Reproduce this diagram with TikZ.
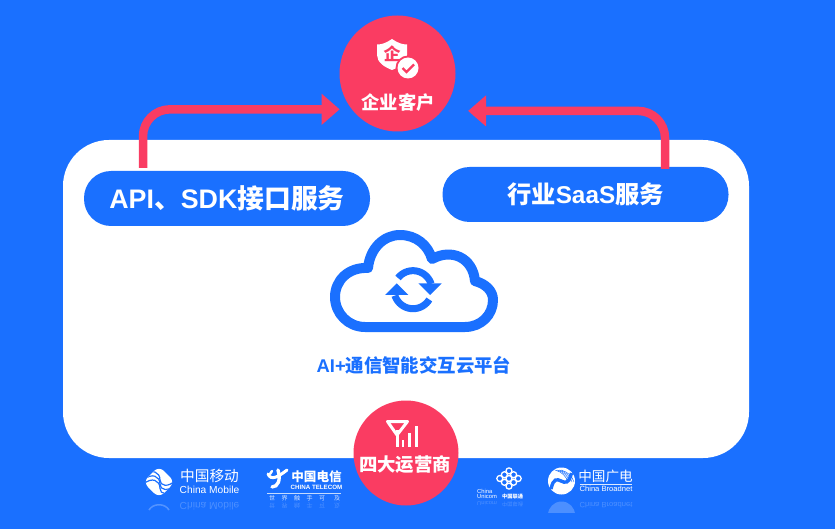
\documentclass[tikz,border=0pt]{standalone}
\usepackage{fontspec}
\setmainfont{Noto Sans CJK SC}
\newfontfamily\latn{Liberation Sans}
\usetikzlibrary{arrows.meta}
\definecolor{bgblue}{HTML}{1A70FF}
\definecolor{accent}{HTML}{FA3C62}
\tikzset{
  panel/.style={fill=white,rounded corners=46pt},
  pill/.style={fill=bgblue,rounded corners=27pt,text=white,font=\bfseries\fontsize{25}{25}\selectfont,minimum height=55pt,minimum width=286pt,inner sep=0pt},
  badge/.style={circle,fill=accent,inner sep=0pt},
  badgetext/.style={text=white,font=\bfseries\fontsize{18.3}{18.3}\selectfont,inner sep=0pt},
  flow/.style={draw=accent,line width=8.5pt,rounded corners=27pt,-{Triangle[length=18pt,width=30pt]}},
  logotext/.style={text=white,inner sep=0pt},
  mirror/.style={text=white,opacity=.22,inner sep=0pt,yscale=-1,transform shape},
}
\begin{document}
\begin{tikzpicture}[x=1pt,y=-1pt]
\useasboundingbox (0,0) rectangle (835,529);
\fill[bgblue] (0,0) rectangle (835,529);
\fill[panel] (63,140) rectangle (749,458);
% pills and badges
\node[pill] (api) at (227,198.5) {\fontsize{26.8}{26.8}\selectfont{\latn\bfseries API}、{\latn\bfseries SDK}接口服务};
\node[pill] (saas) at (585.5,194.5) {\fontsize{24.3}{24.3}\selectfont 行业{\latn\bfseries SaaS}服务};
\node[badge,minimum size=116pt] (client) at (397.5,73.5) {};
\coordinate (leftturn) at (143,120);
\coordinate (rightturn) at (665,120);
\draw[flow,shorten <=3pt,shorten >=12pt] (api.north -| leftturn) |- (client.218.4);
\draw[flow,shorten <=-2pt,shorten >=26pt] (saas.north -| rightturn) |- (client.320.4);
% client icon
\fill[white] (392,39) .. controls (386,43) and (382,44.5) .. (377,44.5)
  -- (377,55) .. controls (377,62) and (384,67) .. (392,70)
  .. controls (400,67) and (407,62) .. (407,55) -- (407,44.5)
  .. controls (402,44.5) and (398,43) .. (392,39) -- cycle;
\node[text=accent,font=\bfseries\fontsize{17}{17}\selectfont,inner sep=0pt] (shieldmark) at (392,54) {企};
\fill[accent] (408,68) circle (12.5);
\fill[white] (408,68) circle (10.5);
\draw[accent,line width=2.2pt] (402.5,68) -- (406.5,72) -- (414,64.5);
\node[badgetext] (clientlabel) at (398,103) {企业客户};
% cloud
\draw[bgblue,line width=10pt,line join=round]
  (365,327) .. controls (348.4,327) and (335,313.6) .. (335,297)
  .. controls (335,280.4) and (348.4,267) .. (368,268)
  .. controls (370,248) and (384,235) .. (400,235)
  .. controls (416,235) and (428,245) .. (432,259)
  .. controls (452,248) and (473,258) .. (475,281)
  .. controls (486,284) and (493,291) .. (493,300)
  .. controls (493,315) and (481,327) .. (465,327) -- cycle;
% sync arrows
\begin{scope}[shift={(413,289.7)}]
\draw[bgblue,line width=7pt] plot[domain=218:342,samples=30] ({19*cos(\x)},{19*sin(\x)});
\draw[bgblue,line width=7pt] plot[domain=31:162,samples=30] ({19*cos(\x)},{19*sin(\x)});
\end{scope}
\fill[bgblue] (418.3,283.3) -- (441.7,283.3) -- (430,295) -- cycle;
\fill[bgblue] (385,295) -- (408.3,295) -- (396.7,283.3) -- cycle;
\node[text=bgblue,font=\bfseries\fontsize{18.4}{18.4}\selectfont,inner sep=0pt] (platform) at (414,365) {{\latn\bfseries AI+}通信智能交互云平台};
% operators badge
\node[badge,minimum size=105pt] (ops) at (406,453) {};
\draw[white,line width=3pt,line join=round] (387.5,421.5) -- (407.5,421.5) -- (397,435) -- cycle;
\draw[white,line width=3pt] (397,430) -- (397,447);
\draw[white,line width=2.8pt] (403,440) -- (403,447);
\draw[white,line width=2.8pt] (409.5,433) -- (409.5,447);
\draw[white,line width=2.8pt] (416.5,426) -- (416.5,447);
\node[badgetext,font=\bfseries\fontsize{18.4}{18.4}\selectfont] (opslabel) at (405,465) {四大运营商};
% China Mobile
\begin{scope}
\clip[rounded corners=7pt] (159,466) -- (175,482) -- (159,498) -- (143,482) -- cycle;
\fill[white] (140,462) rectangle (178,502);
\foreach \d in {0,4.2,8.4}{
  \draw[bgblue,line width=1.2pt] (143,{476+\d}) .. controls (152,{468+\d}) and (160,{472+\d}) .. (160,{480+\d})
     .. controls (160,{486+\d}) and (168,{488+\d}) .. (176,{480+\d});
}
\end{scope}
\begin{scope}
\clip (140,500) rectangle (175,512);
\draw[white,opacity=.25,line width=1.5pt] (149,510) .. controls (153,503) and (165,503) .. (169,510);
\end{scope}
\node[logotext,font=\fontsize{14.7}{14.7}\selectfont] (cmcn) at (209.5,475.5) {中国移动};
\node[logotext,font=\latn\fontsize{10.2}{10.2}\selectfont] (cmen) at (209.5,489.5) {China Mobile};
\node[mirror,font=\latn\fontsize{10.2}{10.2}\selectfont] (cmmirror) at (209.5,506.5) {China Mobile};
% China Telecom
\draw[white,line width=3pt,line cap=round] (268,474) .. controls (271,481) and (278,477) .. (287,470);
\draw[white,line width=3.4pt,line cap=round] (278,470) .. controls (281,480) and (278,487) .. (272,487);
\draw[white,line width=2.4pt,line cap=round] (272,471) -- (270,474);
\node[logotext,font=\bfseries\fontsize{12.6}{12.6}\selectfont] (ctcn) at (316.5,477) {中国电信};
\node[logotext,font=\latn\bfseries\fontsize{6.2}{6.2}\selectfont] (cten) at (316.5,487.5) {CHINA TELECOM};
\draw[white,opacity=.75,line width=.6pt] (267,493.5) -- (341,493.5);
\foreach \t/\x in {世/272,界/284.5,触/297,手/309.5,可/322,及/337}{
  \node[logotext,opacity=.8,font=\fontsize{6}{6}\selectfont] at (\x,498.5) {\t};
  \node[mirror,font=\fontsize{6}{6}\selectfont] at (\x,506) {\t};
}
% China Unicom
\foreach \u/\v in {-1/-1,-1/0,-1/1,0/-1,0/0,0/1,1/-1,1/0,1/1}{
  \draw[white,line width=1.3pt] ({509+(\u+\v)*4.6},{478.5+(\v-\u)*3.8}) circle (3);
}
\node[logotext,anchor=west,font=\latn\fontsize{5.8}{5.8}\selectfont] (cuchina) at (477,491) {China};
\node[logotext,anchor=west,font=\latn\fontsize{5.8}{5.8}\selectfont] (cuuni) at (477,496.5) {Unicom};
\node[logotext,anchor=west,font=\bfseries\fontsize{5.2}{5.2}\selectfont] (cucn) at (502,496.5) {中国联通};
\node[mirror,anchor=west,font=\latn\fontsize{5.8}{5.8}\selectfont] (cumirror) at (477,504) {Unicom};
\node[mirror,anchor=west,font=\fontsize{5.2}{5.2}\selectfont] (cumirrorb) at (502,504) {中国联通};
% China Broadnet
\fill[white] (561.5,481) circle (13.5);
\draw[bgblue,line width=3.4pt] (551,489) .. controls (556,466) and (566,496) .. (571.5,473);
\foreach \r in {0,2,4,6}{
  \draw[bgblue,line width=.5pt] ({555+\r},470) .. controls ({562+\r},472) and ({566+\r},476) .. ({568+\r},482);
}
\begin{scope}
\clip (540,500) rectangle (580,512);
\fill[white,opacity=.22] (561.5,515) circle (13.5);
\end{scope}
\node[logotext,font=\fontsize{13.6}{13.6}\selectfont] (cbcn) at (605.5,476) {中国广电};
\draw[white,opacity=.85,line width=.6pt] (580,484) -- (632,484);
\node[logotext,font=\latn\fontsize{7.6}{7.6}\selectfont] (cben) at (606,488.8) {China Broadnet};
\node[mirror,font=\latn\fontsize{7.6}{7.6}\selectfont] (cbmirror) at (606,505) {China Broadnet};
\end{tikzpicture}
\end{document}
